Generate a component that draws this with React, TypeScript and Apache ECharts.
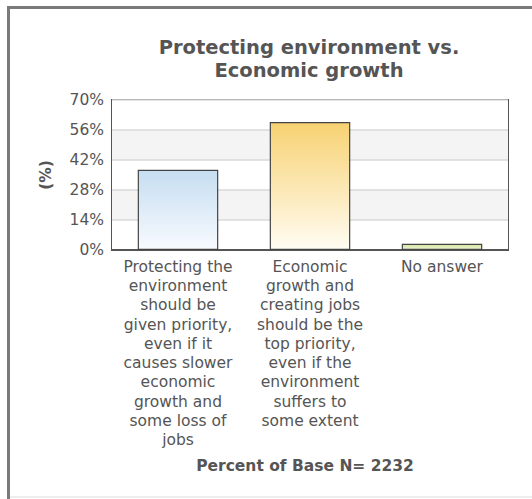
import React, { useEffect, useRef } from "react";
import * as echarts from "echarts";

const titleText = "Protecting environment vs.\nEconomic growth";
const categories = [
  "Protecting the\nenvironment\nshould be\ngiven priority,\neven if it\ncauses slower\neconomic\ngrowth and\nsome loss of\njobs",
  "Economic\ngrowth and\ncreating jobs\nshould be the\ntop priority,\neven if the\nenvironment\nsuffers to\nsome extent",
  "No answer",
];
const values = [37.4, 59.7, 2.9];
const topColors = ["#c6ddf1", "#f7d272", "#d2e59c"];
const bottomColors = ["#f7fbfe", "#fffcf2", "#eef6d8"];
const yTicks = [0, 14, 28, 42, 56, 70];
const yAxisName = "(%)";
const footer = "Percent of Base N= 2232";

export default function App() {
  const ref = useRef<HTMLDivElement>(null);
  useEffect(() => {
    if (!ref.current) return;
    const chart = echarts.init(ref.current, null, { renderer: "svg" });
    const font = "DejaVu Sans";
    chart.setOption({
      animation: false,
      backgroundColor: "#fff",
      title: {
        text: titleText,
        left: 304,
        top: 31,
        textAlign: "center",
        textStyle: {
          fontFamily: font,
          fontSize: 19.5,
          fontWeight: "bold",
          color: "#555",
          lineHeight: 23,
        },
      },
      grid: {
        left: 112,
        right: 24,
        top: 100,
        bottom: 249,
        show: true,
        borderColor: "#555",
        borderWidth: 2,
        backgroundColor: "transparent",
      },
      xAxis: {
        type: "category",
        data: categories,
        axisLine: { show: true, lineStyle: { color: "#555", width: 2 } },
        axisTick: { show: false },
        axisLabel: {
          interval: 0,
          fontFamily: font,
          fontSize: 15.5,
          lineHeight: 19.3,
          color: "#555",
          margin: 7,
          align: "center",
        },
      },
      yAxis: {
        type: "value",
        min: yTicks[0],
        max: yTicks[yTicks.length - 1],
        interval: 14,
        name: yAxisName,
        nameLocation: "middle",
        nameGap: 58,
        nameRotate: 90,
        nameTextStyle: {
          fontFamily: font,
          fontSize: 15.5,
          fontWeight: "bold",
          color: "#555",
        },
        axisLine: { show: false },
        axisTick: { show: false },
        axisLabel: {
          formatter: "{value}%",
          fontFamily: font,
          fontSize: 15.5,
          color: "#555",
          margin: 8,
        },
        splitLine: { show: true, lineStyle: { color: "#d9d9d9", width: 1.5 } },
        splitArea: { show: true, areaStyle: { color: ["#ffffff", "#f4f4f4"] } },
      },
      series: [
        {
          type: "bar",
          barWidth: "61%",
          data: values.map((v, i) => ({
            value: v,
            itemStyle: {
              color: new echarts.graphic.LinearGradient(0, 0, 0, 1, [
                { offset: 0, color: topColors[i] },
                { offset: 1, color: bottomColors[i] },
              ]),
              borderColor: "#444",
              borderWidth: 1.2,
            },
          })),
        },
      ],
      graphic: [
        {
          type: "rect",
          shape: { x: 7, y: 6, width: 3, height: 493 },
          style: { fill: "#7b7b7b" },
          silent: true,
        },
        {
          type: "rect",
          shape: { x: 7, y: 6, width: 525, height: 3 },
          style: { fill: "#7b7b7b" },
          silent: true,
        },
        {
          type: "rect",
          shape: { x: 10, y: 496, width: 522, height: 2 },
          style: { fill: "#eeeeee" },
          silent: true,
        },
        {
          type: "text",
          x: 305,
          y: 466,
          style: {
            text: footer,
            fontFamily: font,
            fontSize: 15.5,
            fontWeight: "bold",
            fill: "#555",
            align: "center",
            verticalAlign: "middle",
          },
        },
      ],
    });
    return () => chart.dispose();
  }, []);
  return (
    <div
      ref={ref}
      style={{ position: "fixed", left: 0, top: 0, width: 532, height: 499 }}
    />
  );
}
